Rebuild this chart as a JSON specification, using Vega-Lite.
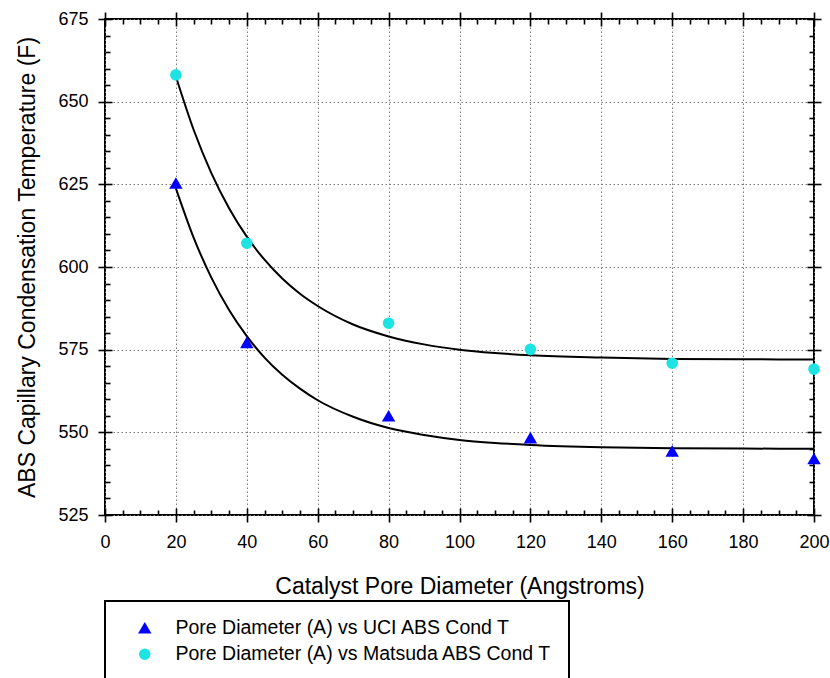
{
  "$schema": "https://vega.github.io/schema/vega-lite/v6.json",
  "width": 709,
  "height": 496,
  "autosize": {"type": "none"},
  "padding": {"left": 105, "top": 19, "right": 16, "bottom": 163},
  "background": "white",
  "datasets": {
    "measured": [
      {"series": "Pore Diameter (A) vs UCI ABS Cond T", "diameter": 20, "temp": 625.4},
      {"series": "Pore Diameter (A) vs UCI ABS Cond T", "diameter": 40, "temp": 577.2},
      {"series": "Pore Diameter (A) vs UCI ABS Cond T", "diameter": 80, "temp": 555},
      {"series": "Pore Diameter (A) vs UCI ABS Cond T", "diameter": 120, "temp": 548.4},
      {"series": "Pore Diameter (A) vs UCI ABS Cond T", "diameter": 160, "temp": 544.4},
      {"series": "Pore Diameter (A) vs UCI ABS Cond T", "diameter": 200, "temp": 542.1},
      {"series": "Pore Diameter (A) vs Matsuda ABS Cond T", "diameter": 20, "temp": 658.1},
      {"series": "Pore Diameter (A) vs Matsuda ABS Cond T", "diameter": 40, "temp": 607.2},
      {"series": "Pore Diameter (A) vs Matsuda ABS Cond T", "diameter": 80, "temp": 583},
      {"series": "Pore Diameter (A) vs Matsuda ABS Cond T", "diameter": 120, "temp": 575.1},
      {"series": "Pore Diameter (A) vs Matsuda ABS Cond T", "diameter": 160, "temp": 570.9},
      {"series": "Pore Diameter (A) vs Matsuda ABS Cond T", "diameter": 200, "temp": 569.1}
    ],
    "fitted": [
      {"series": "Pore Diameter (A) vs UCI ABS Cond T", "diameter": 20, "temp": 623.8},
      {"series": "Pore Diameter (A) vs UCI ABS Cond T", "diameter": 25, "temp": 608.9},
      {"series": "Pore Diameter (A) vs UCI ABS Cond T", "diameter": 30, "temp": 596.8},
      {"series": "Pore Diameter (A) vs UCI ABS Cond T", "diameter": 35, "temp": 587},
      {"series": "Pore Diameter (A) vs UCI ABS Cond T", "diameter": 40, "temp": 579.1},
      {"series": "Pore Diameter (A) vs UCI ABS Cond T", "diameter": 45, "temp": 572.6},
      {"series": "Pore Diameter (A) vs UCI ABS Cond T", "diameter": 50, "temp": 567.4},
      {"series": "Pore Diameter (A) vs UCI ABS Cond T", "diameter": 55, "temp": 563.2},
      {"series": "Pore Diameter (A) vs UCI ABS Cond T", "diameter": 60, "temp": 559.7},
      {"series": "Pore Diameter (A) vs UCI ABS Cond T", "diameter": 70, "temp": 554.7},
      {"series": "Pore Diameter (A) vs UCI ABS Cond T", "diameter": 80, "temp": 551.3},
      {"series": "Pore Diameter (A) vs UCI ABS Cond T", "diameter": 90, "temp": 549.2},
      {"series": "Pore Diameter (A) vs UCI ABS Cond T", "diameter": 100, "temp": 547.7},
      {"series": "Pore Diameter (A) vs UCI ABS Cond T", "diameter": 110, "temp": 546.8},
      {"series": "Pore Diameter (A) vs UCI ABS Cond T", "diameter": 120, "temp": 546.2},
      {"series": "Pore Diameter (A) vs UCI ABS Cond T", "diameter": 140, "temp": 545.5},
      {"series": "Pore Diameter (A) vs UCI ABS Cond T", "diameter": 160, "temp": 545.2},
      {"series": "Pore Diameter (A) vs UCI ABS Cond T", "diameter": 180, "temp": 545.1},
      {"series": "Pore Diameter (A) vs UCI ABS Cond T", "diameter": 200, "temp": 545},
      {"series": "Pore Diameter (A) vs Matsuda ABS Cond T", "diameter": 20, "temp": 657.6},
      {"series": "Pore Diameter (A) vs Matsuda ABS Cond T", "diameter": 25, "temp": 641.5},
      {"series": "Pore Diameter (A) vs Matsuda ABS Cond T", "diameter": 30, "temp": 628.4},
      {"series": "Pore Diameter (A) vs Matsuda ABS Cond T", "diameter": 35, "temp": 617.8},
      {"series": "Pore Diameter (A) vs Matsuda ABS Cond T", "diameter": 40, "temp": 609.2},
      {"series": "Pore Diameter (A) vs Matsuda ABS Cond T", "diameter": 45, "temp": 602.2},
      {"series": "Pore Diameter (A) vs Matsuda ABS Cond T", "diameter": 50, "temp": 596.5},
      {"series": "Pore Diameter (A) vs Matsuda ABS Cond T", "diameter": 55, "temp": 591.9},
      {"series": "Pore Diameter (A) vs Matsuda ABS Cond T", "diameter": 60, "temp": 588.2},
      {"series": "Pore Diameter (A) vs Matsuda ABS Cond T", "diameter": 70, "temp": 582.6},
      {"series": "Pore Diameter (A) vs Matsuda ABS Cond T", "diameter": 80, "temp": 579},
      {"series": "Pore Diameter (A) vs Matsuda ABS Cond T", "diameter": 90, "temp": 576.6},
      {"series": "Pore Diameter (A) vs Matsuda ABS Cond T", "diameter": 100, "temp": 575},
      {"series": "Pore Diameter (A) vs Matsuda ABS Cond T", "diameter": 110, "temp": 574},
      {"series": "Pore Diameter (A) vs Matsuda ABS Cond T", "diameter": 120, "temp": 573.3},
      {"series": "Pore Diameter (A) vs Matsuda ABS Cond T", "diameter": 140, "temp": 572.6},
      {"series": "Pore Diameter (A) vs Matsuda ABS Cond T", "diameter": 160, "temp": 572.2},
      {"series": "Pore Diameter (A) vs Matsuda ABS Cond T", "diameter": 180, "temp": 572.1},
      {"series": "Pore Diameter (A) vs Matsuda ABS Cond T", "diameter": 200, "temp": 572}
    ]
  },
  "layer": [
    {
      "data": {"name": "fitted"},
      "mark": {"type": "line", "color": "black", "strokeWidth": 2, "interpolate": "monotone"},
      "encoding": {
        "x": {
          "field": "diameter", "type": "quantitative",
          "scale": {"domain": [0, 200], "nice": false, "zero": false},
          "axis": {
            "orient": "bottom", "values": [0, 20, 40, 60, 80, 100, 120, 140, 160, 180, 200],
            "offset": -7, "tickSize": 14, "labelPadding": 11, "labelFlush": false,
            "grid": true,
            "title": "Catalyst Pore Diameter (Angstroms)", "titlePadding": 24
          }
        },
        "y": {
          "field": "temp", "type": "quantitative",
          "scale": {"domain": [525, 675], "nice": false, "zero": false},
          "axis": {
            "orient": "left", "values": [525, 550, 575, 600, 625, 650, 675],
            "offset": -7, "tickSize": 14, "labelPadding": 10, "labelFlush": false,
            "grid": true,
            "title": "ABS Capillary Condensation Temperature (F)", "titlePadding": 18
          }
        },
        "detail": {"field": "series"}
      }
    },
    {
      "data": {"name": "measured"},
      "mark": {"type": "point", "filled": true, "opacity": 1},
      "encoding": {
        "x": {
          "field": "diameter", "type": "quantitative",
          "axis": {
            "orient": "top", "values": [0, 20, 40, 60, 80, 100, 120, 140, 160, 180, 200],
            "offset": -7, "tickSize": 14, "labels": false, "grid": false, "title": null
          }
        },
        "y": {
          "field": "temp", "type": "quantitative",
          "axis": {
            "orient": "right", "values": [525, 550, 575, 600, 625, 650, 675],
            "offset": -7, "tickSize": 14, "labels": false, "grid": false, "title": null
          }
        },
        "shape": {
          "field": "series", "type": "nominal",
          "scale": {
            "domain": ["Pore Diameter (A) vs UCI ABS Cond T", "Pore Diameter (A) vs Matsuda ABS Cond T"],
            "range": ["triangle-up", "circle"]
          },
          "legend": {"orient": "none", "legendX": 0, "legendY": 582, "title": null}
        },
        "color": {
          "field": "series", "type": "nominal",
          "scale": {
            "domain": ["Pore Diameter (A) vs UCI ABS Cond T", "Pore Diameter (A) vs Matsuda ABS Cond T"],
            "range": ["#0000ff", "#1de3e3"]
          },
          "legend": {"orient": "none", "legendX": 0, "legendY": 582, "title": null}
        },
        "size": {
          "field": "series", "type": "nominal",
          "scale": {
            "domain": ["Pore Diameter (A) vs UCI ABS Cond T", "Pore Diameter (A) vs Matsuda ABS Cond T"],
            "range": [180, 135]
          },
          "legend": null
        }
      }
    },
    {
      "data": {"name": "fitted"},
      "mark": {"type": "point", "opacity": 0},
      "encoding": {
        "x": {
          "field": "diameter", "type": "quantitative",
          "axis": {
            "orient": "bottom",
            "values": [5, 10, 15, 25, 30, 35, 45, 50, 55, 65, 70, 75, 85, 90, 95, 105, 110, 115, 125, 130, 135, 145, 150, 155, 165, 170, 175, 185, 190, 195],
            "offset": -5, "tickSize": 5, "labels": false, "grid": false, "title": null
          }
        },
        "y": {
          "field": "temp", "type": "quantitative",
          "axis": {
            "orient": "left",
            "values": [530, 535, 540, 545, 555, 560, 565, 570, 580, 585, 590, 595, 605, 610, 615, 620, 630, 635, 640, 645, 655, 660, 665, 670],
            "offset": -5, "tickSize": 5, "labels": false, "grid": false, "title": null
          }
        }
      }
    },
    {
      "data": {"name": "fitted"},
      "mark": {"type": "point", "opacity": 0},
      "encoding": {
        "x": {
          "field": "diameter", "type": "quantitative",
          "axis": {
            "orient": "top",
            "values": [5, 10, 15, 25, 30, 35, 45, 50, 55, 65, 70, 75, 85, 90, 95, 105, 110, 115, 125, 130, 135, 145, 150, 155, 165, 170, 175, 185, 190, 195],
            "offset": -5, "tickSize": 5, "labels": false, "grid": false, "title": null
          }
        },
        "y": {
          "field": "temp", "type": "quantitative",
          "axis": {
            "orient": "right",
            "values": [530, 535, 540, 545, 555, 560, 565, 570, 580, 585, 590, 595, 605, 610, 615, 620, 630, 635, 640, 645, 655, 660, 665, 670],
            "offset": -5, "tickSize": 5, "labels": false, "grid": false, "title": null
          }
        }
      }
    }
  ],
  "resolve": {"axis": {"x": "independent", "y": "independent"}},
  "config": {
    "font": "Liberation Sans",
    "view": {"stroke": "black", "strokeWidth": 2},
    "axis": {
      "domain": false,
      "tickColor": "black",
      "tickWidth": 1.6,
      "gridColor": "#7a7a7a",
      "gridDash": [1.5, 2.5],
      "gridWidth": 1,
      "labelFont": "Liberation Sans",
      "labelFontSize": 18,
      "labelColor": "black",
      "titleFont": "Liberation Sans",
      "titleFontSize": 23,
      "titleFontWeight": "normal",
      "titleColor": "black"
    },
    "legend": {
      "padding": 17,
      "strokeColor": "black",
      "strokeWidth": 2,
      "fillColor": "white",
      "labelFont": "Liberation Sans",
      "labelFontSize": 19.5,
      "labelColor": "black",
      "labelLimit": 500,
      "symbolSize": 160,
      "symbolOffset": 13,
      "labelOffset": 21,
      "rowPadding": 5.5,
      "symbolStrokeWidth": 0
    }
  }
}
